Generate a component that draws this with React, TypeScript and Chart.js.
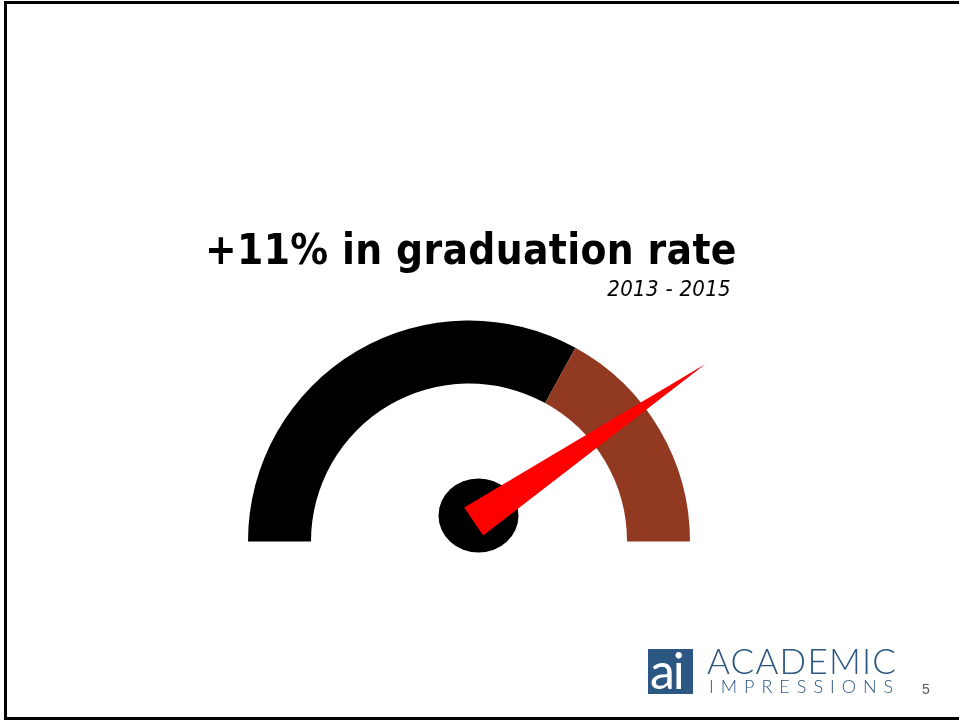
import React, { useEffect, useRef } from "react";
import { Chart, registerables } from "chart.js";

Chart.register(...registerables);

// ---- data ----
const segmentLabels = ["2013 level", "Gain to 2015"];
const segmentValues = [66, 34];
const segmentColors = ["#000000", "#923A21"];
const needleValue = 81;
const gaugeMax = 100;
const titleText = "+11% in graduation rate";
const subtitleText = "2013 - 2015";
const pageNumber = "5";
const logoTop = "ACADEMIC";
const logoBottom = "IMPRESSIONS";

const TITLE_FONT = '"DejaVu Sans Condensed", "DejaVu Sans", sans-serif';

const needlePlugin = {
  id: "gaugeNeedle",
  afterDatasetsDraw(chart: any) {
    const meta = chart.getDatasetMeta(0);
    const arc = meta.data[0];
    if (!arc) return;
    const { x, y, outerRadius } = arc.getProps(["x", "y", "outerRadius"], true);
    const ctx = chart.ctx;
    const hubX = x + 9.5;
    const hubY = y - 26;
    ctx.save();
    ctx.fillStyle = "#000000";
    ctx.beginPath();
    ctx.ellipse(hubX, hubY, 40, 37, 0, 0, Math.PI * 2);
    ctx.fill();
    const frac = needleValue / gaugeMax;
    const ang = Math.PI + frac * Math.PI;
    const bx = hubX - 4.8;
    const by = hubY + 6;
    const len = outerRadius * 1.268;
    const tx = bx + Math.cos(ang) * len;
    const ty = by + Math.sin(ang) * len;
    const px = -Math.sin(ang);
    const py = Math.cos(ang);
    const hw = 16.9;
    ctx.fillStyle = "#FF0000";
    ctx.beginPath();
    ctx.moveTo(bx + px * hw, by + py * hw);
    ctx.lineTo(tx, ty);
    ctx.lineTo(bx - px * hw, by - py * hw);
    ctx.closePath();
    ctx.fill();
    ctx.restore();
  },
};

export default function App() {
  const canvasRef = useRef<HTMLCanvasElement | null>(null);

  useEffect(() => {
    if (!canvasRef.current) return;
    const chart = new Chart(canvasRef.current, {
      type: "doughnut",
      data: {
        labels: segmentLabels,
        datasets: [
          {
            data: segmentValues,
            backgroundColor: segmentColors,
            borderWidth: 0,
            hoverOffset: 0,
          },
        ],
      },
      options: {
        responsive: false,
        animation: false,
        events: [],
        rotation: -90,
        circumference: 180,
        cutout: "71.5%",
        layout: { padding: { left: 248, top: 320, right: 269, bottom: 178 } },
        plugins: {
          legend: { display: false },
          tooltip: { enabled: false },
          title: { display: false },
        },
      },
      plugins: [needlePlugin],
    });
    return () => chart.destroy();
  }, []);

  return (
    <div
      style={{
        position: "absolute",
        left: 0,
        top: 0,
        width: 959,
        height: 720,
        overflow: "hidden",
        background: "#ffffff",
      }}
    >
      <div
        style={{
          position: "absolute",
          left: 4,
          top: 1,
          width: 970,
          height: 719,
          boxSizing: "border-box",
          borderTop: "3px solid #000",
          borderLeft: "3px solid #000",
          borderBottom: "3px solid #000",
        }}
      />
      <canvas
        ref={canvasRef}
        width={959}
        height={720}
        style={{ position: "absolute", left: 0, top: 0, width: 959, height: 720 }}
      />
      <div
        style={{
          position: "absolute",
          left: 205,
          top: 229,
          fontFamily: TITLE_FONT,
          fontWeight: "bold",
          fontSize: 42,
          lineHeight: "1",
          letterSpacing: 0.35,
          whiteSpace: "nowrap",
          color: "#000",
        }}
      >
        {titleText}
      </div>
      <div
        style={{
          position: "absolute",
          right: 959 - 731,
          top: 278,
          fontFamily: TITLE_FONT,
          fontStyle: "italic",
          fontSize: 22,
          lineHeight: "1",
          letterSpacing: 0.3,
          whiteSpace: "nowrap",
          color: "#000",
        }}
      >
        {subtitleText}
      </div>
      <div
        style={{
          position: "absolute",
          left: 648,
          top: 649,
          width: 45,
          height: 45,
          background: "#2B5782",
          overflow: "hidden",
        }}
      >
        <span
          style={{
            position: "absolute",
            left: 2,
            top: -4,
            fontFamily: "Lato, sans-serif",
            fontSize: 50,
            lineHeight: "1",
            color: "#fff",
            letterSpacing: -2,
          }}
        >
          ai
        </span>
      </div>
      <div
        style={{
          position: "absolute",
          left: 707,
          top: 643,
          fontFamily: "Lato, sans-serif",
          fontWeight: 300,
          fontSize: 35,
          lineHeight: "1",
          letterSpacing: 1.2,
          color: "#2B5782",
          whiteSpace: "nowrap",
        }}
      >
        {logoTop}
      </div>
      <div
        style={{
          position: "absolute",
          left: 709,
          top: 677,
          fontFamily: "Lato, sans-serif",
          fontWeight: 300,
          fontSize: 18,
          lineHeight: "1",
          letterSpacing: 7,
          color: "#2B5782",
          whiteSpace: "nowrap",
        }}
      >
        {logoBottom}
      </div>
      <div
        style={{
          position: "absolute",
          left: 922,
          top: 682,
          fontFamily: '"Liberation Sans", sans-serif',
          fontSize: 14,
          lineHeight: "1",
          color: "#595959",
        }}
      >
        {pageNumber}
      </div>
    </div>
  );
}
